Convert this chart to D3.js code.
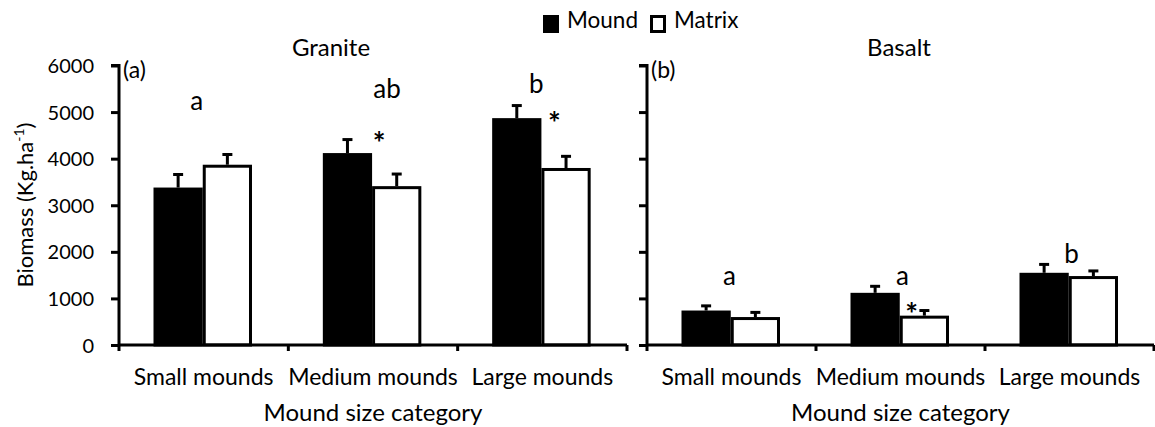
<!DOCTYPE html>
<html>
<head>
<meta charset="utf-8">
<script src="https://cdn.jsdelivr.net/npm/d3@7"></script>
<style>
  html, body { margin: 0; padding: 0; background: #fff; }
  svg text { font-family: Lato, "Open Sans", sans-serif; fill: #000; }
</style>
</head>
<body>
<svg id="chart" width="1155" height="427"></svg>
<script>
// Mound size categories on the x axis
const categories = ["Small mounds", "Medium mounds", "Large mounds"];
const series = ["Mound", "Matrix"];
const yTicks = [0, 1000, 2000, 3000, 4000, 5000, 6000];

// Granite biomass (Kg/ha): means and standard errors
const graniteMound = [3380, 4120, 4870];
const graniteMatrix = [3870, 3410, 3800];
const graniteMoundErr = [280, 290, 270];
const graniteMatrixErr = [220, 260, 250];

// Basalt biomass (Kg/ha): means and standard errors
const basaltMound = [740, 1120, 1550];
const basaltMatrix = [600, 630, 1480];
const basaltMoundErr = [100, 140, 180];
const basaltMatrixErr = [100, 110, 110];

// Significance letters (height in data units)
const graniteLetters = ["a", "ab", "b"];
const graniteLetterY = [5040, 5300, 5410];
const basaltLetters = ["a", "a", "b"];
const basaltLetterY = [1290, 1290, 1760];

// Mound-vs-matrix asterisks (height in data units, null = not significant)
const graniteStarY = [null, 4460, 4890];
const basaltStarY = [null, 790, null];

const svg = d3.select("#chart");
const y = d3.scaleLinear().domain([0, 6000]).range([345, 65.5]);

function panel(opts) {
  const g = svg.append("g");
  const x = d3.scaleBand().domain(categories).range(opts.range).padding(0);
  const inner = d3.scaleBand().domain(series).range([34.5, 133]).padding(0);
  const bw = inner.bandwidth();

  const rows = categories.map((c, i) => ({
    cat: c,
    vals: [
      { s: "Mound", v: opts.mound[i], e: opts.moundErr[i] },
      { s: "Matrix", v: opts.matrix[i], e: opts.matrixErr[i] }
    ]
  }));

  // error bars (drawn first so bars cover their base)
  const groups = g.selectAll("g.cat").data(rows).join("g")
    .attr("class", "cat")
    .attr("transform", d => `translate(${x(d.cat)},0)`);

  groups.selectAll("line.err").data(d => d.vals).join("line")
    .attr("x1", d => inner(d.s) + bw / 2).attr("x2", d => inner(d.s) + bw / 2)
    .attr("y1", d => y(d.v)).attr("y2", d => y(d.v + d.e))
    .attr("stroke", "#000").attr("stroke-width", 3);
  groups.selectAll("line.cap").data(d => d.vals).join("line")
    .attr("x1", d => inner(d.s) + bw / 2 - 5).attr("x2", d => inner(d.s) + bw / 2 + 5)
    .attr("y1", d => y(d.v + d.e)).attr("y2", d => y(d.v + d.e))
    .attr("stroke", "#000").attr("stroke-width", 3);

  groups.selectAll("rect").data(d => d.vals).join("rect")
    .attr("x", d => inner(d.s) + 1.5)
    .attr("width", bw - 3)
    .attr("y", d => y(d.v) + 1.5)
    .attr("height", d => y(0) - y(d.v) - 1.5)
    .attr("fill", d => d.s === "Mound" ? "#000" : "#fff")
    .attr("stroke", "#000").attr("stroke-width", 3);

  // y axis
  const yAxis = d3.axisLeft(y).tickValues(yTicks).tickSize(8).tickPadding(17)
    .tickFormat(opts.showLabels ? d3.format("d") : () => "");
  const ya = g.append("g").attr("transform", `translate(${opts.range[0]},0)`).call(yAxis);
  ya.select(".domain").attr("d", `M-8,${y(6000)}H0V${y(0)}`);
  ya.selectAll("line").attr("stroke-width", 3);
  ya.select(".domain").attr("stroke-width", 3);
  ya.selectAll("text").style("font-size", "20px").attr("dy", "0.35em");

  // x axis: ticks on the category boundaries
  const xa = g.append("g").attr("transform", `translate(0,${y(0)})`);
  xa.append("path")
    .attr("d", `M${opts.range[0]},0H${opts.range[1]}`)
    .attr("stroke", "#000").attr("stroke-width", 3).attr("fill", "none");
  const edges = categories.map(c => x(c)).concat([opts.range[1]]);
  xa.selectAll("line.tick").data(edges).join("line")
    .attr("x1", d => d).attr("x2", d => d).attr("y1", 0).attr("y2", 6)
    .attr("stroke", "#000").attr("stroke-width", 3);
  xa.selectAll("text.cat").data(categories).join("text")
    .attr("x", d => x(d) + x.bandwidth() / 2).attr("y", 39.5)
    .attr("text-anchor", "middle").style("font-size", "23px").text(d => d);

  // axis title
  g.append("text")
    .attr("x", (opts.range[0] + opts.range[1]) / 2).attr("y", 421)
    .attr("text-anchor", "middle").style("font-size", "24px")
    .text("Mound size category");

  // panel title and tag
  g.append("text").attr("x", opts.titleX).attr("y", 56)
    .attr("text-anchor", "middle").style("font-size", "24px").text(opts.title);
  g.append("text").attr("x", opts.range[0] + 4).attr("y", 78)
    .style("font-size", "23px").text(opts.tag);

  // significance letters
  g.selectAll("text.letter").data(categories).join("text")
    .attr("x", (d, i) => x(d) + x.bandwidth() / 2 + opts.letterDx[i])
    .attr("y", (d, i) => y(opts.letterY[i]))
    .attr("text-anchor", "middle").style("font-size", "26px")
    .text((d, i) => opts.letters[i]);

  // asterisks over the matrix bar where mound and matrix differ
  const stars = categories.map((c, i) => ({ c, i, v: opts.starY[i] })).filter(d => d.v !== null);
  g.selectAll("text.star").data(stars).join("text")
    .attr("x", d => x(d.c) + inner("Matrix") + opts.starDx[d.i])
    .attr("y", d => y(d.v) + 17)
    .attr("text-anchor", "middle").style("font-size", "30px").style("font-weight", "bold")
    .text("*");
}

panel({
  range: [119, 627], mound: graniteMound, matrix: graniteMatrix,
  moundErr: graniteMoundErr, matrixErr: graniteMatrixErr,
  showLabels: true, title: "Granite", titleX: 331, tag: "(a)",
  letters: graniteLetters, letterY: graniteLetterY, letterDx: [-7, 14, -6],
  starY: graniteStarY, starDx: [0, 7, 13]
});
panel({
  range: [647, 1154], mound: basaltMound, matrix: basaltMatrix,
  moundErr: basaltMoundErr, matrixErr: basaltMatrixErr,
  showLabels: false, title: "Basalt", titleX: 899, tag: "(b)",
  letters: basaltLetters, letterY: basaltLetterY, letterDx: [-2, 2, 2],
  starY: basaltStarY, starDx: [0, 12, 0]
});

// y axis title
svg.append("text")
  .attr("transform", "translate(33,205) rotate(-90)")
  .attr("text-anchor", "middle").style("font-size", "22px")
  .call(t => {
    t.append("tspan").text("Biomass (Kg.ha");
    t.append("tspan").attr("dy", -9).style("font-size", "14px").text("-1");
    t.append("tspan").attr("dy", 9).text(")");
  });

// legend
const legend = svg.append("g");
const legendItems = [{ s: "Mound", x: 543 }, { s: "Matrix", x: 650 }];
legend.selectAll("rect").data(legendItems).join("rect")
  .attr("x", d => d.x + 1.5).attr("y", 16.5).attr("width", 13).attr("height", 15)
  .attr("fill", d => d.s === "Mound" ? "#000" : "#fff")
  .attr("stroke", "#000").attr("stroke-width", 3);
legend.selectAll("text").data(legendItems).join("text")
  .attr("x", d => d.x + 24).attr("y", 28)
  .style("font-size", "22.5px").text(d => d.s);
</script>
</body>
</html>
